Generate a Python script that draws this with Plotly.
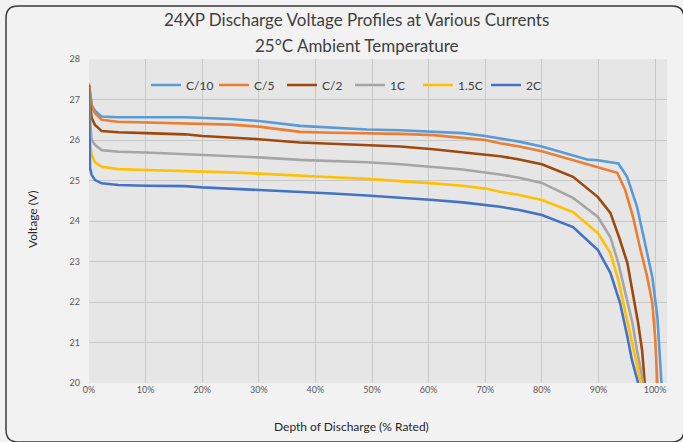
import plotly.graph_objects as go

# ---------------- data (DoD in %, voltage in V) ----------------
series_names = ["C/10", "C/5", "C/2", "1C", "1.5C", "2C"]
series_colors = ["#5B9BD5", "#ED7D31", "#9E480E", "#A5A5A5", "#FFC000", "#4472C4"]

dod_c10 = [0, 0.5, 1.06, 2.2, 5, 10, 17, 25, 30, 37.3, 43, 49.1, 55, 60.8, 66, 70, 72.6, 76, 80, 85, 88, 89.9, 92, 93.5,
           95.05, 96.8, 98.2, 99.5, 100.4, 100.7, 101.1, 101.3]
v_c10 = [27.35, 26.86, 26.72, 26.58, 26.56, 26.56, 26.56, 26.52, 26.47, 26.35, 26.3, 26.26, 26.24, 26.2, 26.17, 26.1, 26.04,
         25.96, 25.84, 25.63, 25.52, 25.5, 25.46, 25.42, 25.09, 24.35, 23.46, 22.62, 21.63, 20.81, 20.0, 19.6]

dod_c5 = [0, 0.5, 1.06, 2.24, 5, 10, 17, 25, 30, 37.3, 43, 49.1, 55, 60.8, 66, 70, 72.6, 76, 80, 85, 88, 89.9, 93.3,
          94.7, 96.1, 97.3, 98.6, 99.5, 100.0, 100.4, 100.6]
v_c5 = [27.4, 26.82, 26.66, 26.5, 26.45, 26.43, 26.41, 26.38, 26.33, 26.2, 26.18, 26.17, 26.15, 26.12, 26.05, 26.0, 25.92,
        25.84, 25.72, 25.52, 25.4, 25.33, 25.19, 24.77, 24.1, 23.36, 22.62, 21.98, 21.14, 20.0, 19.6]

dod_c2 = [0, 0.18, 0.47, 1.06, 2.24, 5.18, 10, 16.96, 20, 25, 30, 37.3, 43, 49.1, 55, 60.8, 66, 72.6, 76, 80, 85.5, 89.9,
          92.1, 93.8, 95.1, 96.1, 97.0, 97.7, 98.2, 98.4]
v_c2 = [27.35, 26.9, 26.54, 26.37, 26.22, 26.19, 26.17, 26.14, 26.1, 26.06, 26.02, 25.94, 25.91, 25.88, 25.84, 25.77, 25.7,
        25.6, 25.52, 25.4, 25.09, 24.59, 24.2, 23.53, 22.96, 22.22, 21.48, 20.81, 20.0, 19.6]

dod_1c = [0, 0.18, 0.47, 1.06, 2.24, 5.18, 10, 16.96, 20, 25, 30, 37.3, 43, 49.1, 55, 60.8, 66, 72.6, 76, 80, 85.5, 89.9,
          92.1, 93.5, 94.7, 96.0, 96.8, 97.9, 98.1]
v_1c = [27.3, 26.5, 26.0, 25.88, 25.75, 25.71, 25.69, 25.65, 25.62, 25.6, 25.57, 25.51, 25.48, 25.45, 25.4, 25.34, 25.27,
        25.15, 25.07, 24.94, 24.57, 24.1, 23.6, 22.96, 22.22, 21.48, 20.81, 20.0, 19.6]

dod_15c = [0, 0.06, 0.18, 0.47, 1.06, 2.24, 5.18, 10, 16.96, 20, 25, 30, 37.3, 43, 49.1, 55, 60.8, 66, 70, 72.6, 76, 80,
           85.5, 89.9, 92.1, 93.5, 94.7, 96.0, 97.5, 97.7]
v_15c = [27.3, 26.3, 25.96, 25.63, 25.45, 25.34, 25.28, 25.26, 25.24, 25.22, 25.2, 25.17, 25.11, 25.08, 25.04, 24.99, 24.93,
         24.87, 24.8, 24.72, 24.64, 24.52, 24.22, 23.7, 23.21, 22.54, 21.8, 20.99, 20.0, 19.6]

dod_2c = [0, 0.02, 0.06, 0.18, 0.47, 1.06, 2.24, 5.18, 10, 16.96, 20, 25, 30, 37.3, 43, 49.1, 55, 60.8, 66, 72.6, 76, 80,
          85.5, 89.9, 92.1, 93.8, 95.1, 95.9, 97.0, 97.2]
v_2c = [27.3, 26.5, 25.55, 25.3, 25.14, 25.01, 24.93, 24.89, 24.87, 24.86, 24.83, 24.8, 24.77, 24.72, 24.68, 24.63, 24.58,
        24.52, 24.46, 24.35, 24.27, 24.15, 23.85, 23.28, 22.72, 21.98, 21.14, 20.57, 20.0, 19.6]

series_x = [dod_c10, dod_c5, dod_c2, dod_1c, dod_15c, dod_2c]
series_y = [v_c10, v_c5, v_c2, v_1c, v_15c, v_2c]

x_ticks = [0, 10, 20, 30, 40, 50, 60, 70, 80, 90, 100]
y_ticks = [20, 21, 22, 23, 24, 25, 26, 27, 28]

title_line1 = "24XP Discharge Voltage Profiles at Various Currents"
title_line2 = "25°C Ambient Temperature"
x_title = "Depth of Discharge (% Rated)"
y_title = "Voltage (V)"

# ---------------- layout geometry ----------------
W, H = 683, 442
L, R, T, B = 89, 16, 59, 59
PW, PH = W - L - R, H - T - B


def px(x):
    return (x - L) / PW


def py(y):
    return (H - B - y) / PH


FONT = "Lato, 'Open Sans', sans-serif"

fig = go.Figure()
for name, color, xs, ys in zip(series_names, series_colors, series_x, series_y):
    fig.add_trace(go.Scatter(
        x=[v / 100 for v in xs], y=ys, mode="lines", name=name,
        line=dict(color=color, width=2.6), hoverinfo="skip"))

# rounded frame
x0, x1, y0, y1, r = 6, 684, 6, 442, 12
rx, ry = r / PW, r / PH
X0, X1, Y0, Y1 = px(x0), px(x1), py(y0), py(y1)
path = (f"M {X0 + rx},{Y0} L {X1 - rx},{Y0} Q {X1},{Y0} {X1},{Y0 - ry} "
        f"L {X1},{Y1 + ry} Q {X1},{Y1} {X1 - rx},{Y1} "
        f"L {X0 + rx},{Y1} Q {X0},{Y1} {X0},{Y1 + ry} "
        f"L {X0},{Y0 - ry} Q {X0},{Y0} {X0 + rx},{Y0} Z")

fig.update_layout(
    width=W, height=H,
    margin=dict(l=L, r=R, t=T, b=B),
    paper_bgcolor="#F2F2F2", plot_bgcolor="#E6E6E6",
    font=dict(family=FONT, color="#595959"),
    showlegend=True,
    legend=dict(orientation="h", x=px(350), xanchor="center", y=py(85), yanchor="middle",
                bgcolor="rgba(0,0,0,0)", font=dict(size=12, color="#404040"),
                itemwidth=30, entrywidth=23, entrywidthmode="pixels", tracegroupgap=0),
    shapes=[dict(type="path", path=path, xref="paper", yref="paper",
                 line=dict(color="#3A3A3A", width=1.5), fillcolor="rgba(0,0,0,0)", layer="above")],
    annotations=[
        dict(text=title_line1, x=px(356), y=py(20), xref="paper", yref="paper", showarrow=False,
             xanchor="center", yanchor="middle", font=dict(size=17, color="#404040", family=FONT)),
        dict(text=title_line2, x=px(356), y=py(45), xref="paper", yref="paper", showarrow=False,
             xanchor="center", yanchor="middle", font=dict(size=17, color="#404040", family=FONT)),
        dict(text=x_title, x=px(351), y=py(426), xref="paper", yref="paper", showarrow=False,
             xanchor="center", yanchor="middle", font=dict(size=12, color="#262626", family=FONT)),
        dict(text=y_title, x=px(32), y=py(220), xref="paper", yref="paper", showarrow=False,
             textangle=-90, xanchor="center", yanchor="middle", font=dict(size=12, color="#262626", family=FONT)),
    ],
)

fig.update_xaxes(range=[0, 1.021], tickvals=[t / 100 for t in x_ticks],
                 ticktext=[f"{t}%" for t in x_ticks],
                 showgrid=True, gridcolor="#C8C8C8", gridwidth=1, zeroline=False,
                 showline=False, ticks="", tickfont=dict(size=9, color="#595959"))
fig.update_yaxes(range=[20, 28], tickvals=y_ticks, showgrid=True, gridcolor="#C8C8C8", gridwidth=1,
                 zeroline=False, showline=False, ticks="", ticklabelstandoff=8,
                 tickfont=dict(size=9, color="#595959"))

fig.write_html("out.html", config={"displayModeBar": False},
               post_script="document.body.style.margin='0';document.body.style.overflow='hidden';")
